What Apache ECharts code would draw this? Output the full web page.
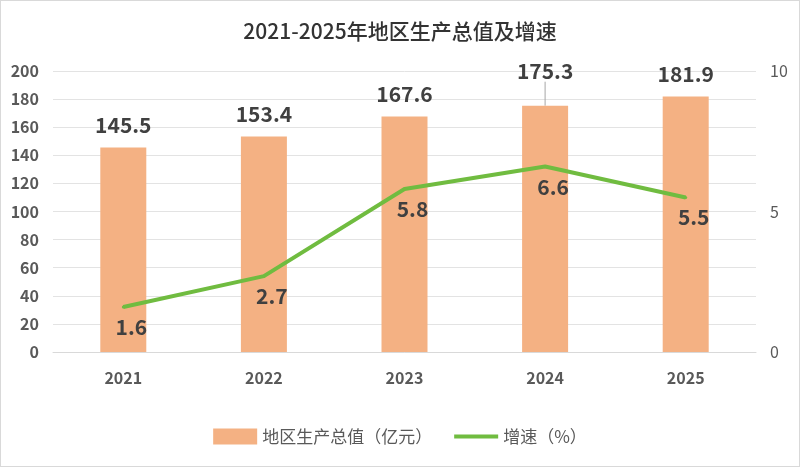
<!DOCTYPE html>
<html>
<head>
<meta charset="utf-8">
<script src="https://cdn.jsdelivr.net/npm/echarts@6/dist/echarts.min.js"></script>
<style>
  html, body { margin: 0; padding: 0; background: #fff; }
  #chart { width: 798px; height: 465px; border: 1px solid #d9d9d9; }
</style>
</head>
<body>
<div id="chart"></div>
<script>
const years = ['2021', '2022', '2023', '2024', '2025'];
const gdp = [145.5, 153.4, 167.6, 175.3, 181.9];
const growth = [1.6, 2.7, 5.8, 6.6, 5.5];

const chart = echarts.init(document.getElementById('chart'));
const font = '"Noto Sans CJK SC", "Noto Sans", sans-serif';
const green = '#70BC40';

// only the 2024 label has a leader line
const gdpData = gdp.map((v, i) => i === 3
  ? { value: v, labelLine: { show: true, lineStyle: { color: '#a6a6a6', width: 1 } } }
  : v);

chart.setOption({
  animation: false,
  textStyle: { fontFamily: font },
  title: {
    text: '2021-2025年地区生产总值及增速',
    left: 'center',
    top: 15,
    textStyle: { fontSize: 21, fontWeight: 500, color: '#333', fontFamily: font }
  },
  legend: {
    bottom: 16,
    itemGap: 22,
    itemWidth: 44,
    itemHeight: 16,
    textStyle: { fontSize: 17, color: '#595959' },
    data: [
      { name: '地区生产总值（亿元）', icon: 'rect' },
      { name: '增速（%）', icon: 'path://M0,0L44,0L44,4L0,4Z', itemStyle: { color: green } }
    ]
  },
  grid: { left: 52, right: 43, top: 70, bottom: 114, containLabel: false },
  xAxis: {
    type: 'category',
    data: years,
    axisLine: { lineStyle: { color: '#d9d9d9' } },
    axisTick: { show: false },
    axisLabel: { fontSize: 16, fontWeight: 'bold', color: '#595959', margin: 18 }
  },
  yAxis: [
    {
      type: 'value', min: 0, max: 200, interval: 20,
      axisLine: { show: false }, axisTick: { show: false },
      splitLine: { lineStyle: { color: '#e3e3e3' } },
      axisLabel: { fontSize: 16, fontWeight: 'bold', color: '#595959', margin: 14 }
    },
    {
      type: 'value', min: 0, max: 10, interval: 5,
      axisLine: { show: false }, axisTick: { show: false },
      splitLine: { show: false },
      axisLabel: { fontSize: 16, color: '#595959', margin: 14 }
    }
  ],
  series: [
    {
      name: '地区生产总值（亿元）',
      type: 'bar',
      data: gdpData,
      barWidth: 46,
      itemStyle: { color: '#F4B183' },
      label: {
        show: true, position: 'top', distance: 12,
        fontSize: 21, fontWeight: 'bold', color: '#404040'
      },
      labelLayout: function (p) {
        if (p.dataIndex === 3) return { dy: -12 };
        return {};
      }
    },
    {
      name: '增速（%）',
      type: 'line',
      yAxisIndex: 1,
      data: growth,
      symbol: 'circle',
      symbolSize: 3,
      showSymbol: true,
      lineStyle: { color: green, width: 4 },
      itemStyle: { color: green },
      label: {
        show: true, position: 'bottom', distance: 8, offset: [8, 0],
        fontSize: 21, fontWeight: 'bold', color: '#404040'
      }
    }
  ]
});
</script>
</body>
</html>
